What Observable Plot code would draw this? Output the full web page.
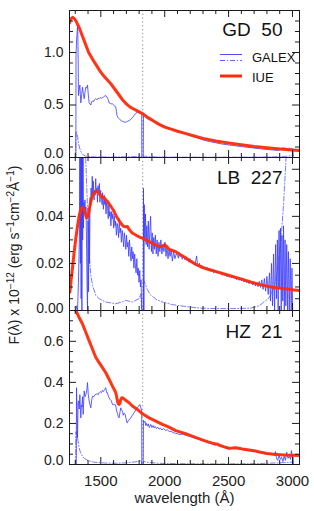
<!DOCTYPE html>
<html><head><meta charset="utf-8">
<script src="https://cdn.jsdelivr.net/npm/d3@7"></script>
<script src="https://cdn.jsdelivr.net/npm/@observablehq/plot@0.6"></script>
<style>
body{margin:0;background:#fff;}
#chart{position:relative;width:314px;height:511px;overflow:hidden;background:#fff;font-family:'Liberation Sans',Arial,sans-serif;color:#1a1a1a;}
#chart svg{position:absolute;left:0;overflow:visible;background:transparent;}
#ylab{position:absolute;left:14px;top:255px;transform:translate(-50%,-50%) rotate(-90deg);white-space:nowrap;font-size:14px;line-height:14px;color:#222;}
#ylab sup{font-size:10px;line-height:0;vertical-align:5px;}
</style></head>
<body><div id="chart"><div id="ylab">F(λ) x 10<sup>−12</sup> (erg s<sup>−1</sup>cm<sup>−2</sup>Å<sup>−1</sup>)</div></div>
<script>
// ---------- axis ticks ----------
const xDomain = [1255, 3055];
const xMajor = [1500, 2000, 2500, 3000];
const xMinor = [1300, 1400, 1600, 1700, 1800, 1900, 2100, 2200, 2300, 2400, 2600, 2700, 2800, 2900];
const dichroic = [1828];

const y1Major = [0, 0.5, 1.0];
const y1Minor = [0.1, 0.2, 0.3, 0.4, 0.6, 0.7, 0.8, 0.9, 1.1, 1.2, 1.3];
const y2Major = [0, 0.02, 0.04, 0.06];
const y2Minor = [0.005, 0.01, 0.015, 0.025, 0.03, 0.035, 0.045, 0.05, 0.055];
const y3Major = [0, 0.2, 0.4, 0.6];
const y3Minor = [0.05, 0.1, 0.15, 0.25, 0.3, 0.35, 0.45, 0.5, 0.55, 0.65, 0.7];

const starNames = ["GD\u00a0\u00a050", "LB\u00a0\u00a0227", "HZ\u00a0\u00a021"];
const legendNames = ["GALEX", "IUE"];

// ---------- GD 50 ----------
const gd50IUE = [[1255,1.28],[1265,1.32],[1280,1.335],[1295,1.32],[1310,1.29],[1330,1.24],[1355,1.16],[1380,1.08],[1405,1.00],[1438,0.93],[1465,0.88],[1490,0.83],[1520,0.78],[1550,0.74],[1580,0.70],[1610,0.65],[1640,0.60],[1670,0.55],[1700,0.51],[1730,0.48],[1760,0.46],[1800,0.435],[1830,0.415],[1870,0.38],[1910,0.35],[1950,0.32],[2000,0.29],[2050,0.27],[2100,0.25],[2160,0.23],[2230,0.205],[2300,0.182],[2400,0.158],[2500,0.138],[2600,0.122],[2700,0.105],[2800,0.092],[2900,0.081],[3000,0.071],[3055,0.066]];
const gd50FUV = [[1303,0],[1305,0.0],[1306,0.97],[1310,1.10],[1313,1.16],[1318,1.26],[1320,1.20],[1323,0.90],[1325,0.59],[1330,0.64],[1336,0.69],[1340,0.60],[1344,0.52],[1350,0.60],[1357,0.67],[1363,0.61],[1370,0.56],[1376,0.62],[1383,0.67],[1390,0.66],[1396,0.69],[1402,0.60],[1409,0.52],[1415,0.51],[1422,0.50],[1428,0.53],[1435,0.54],[1442,0.53],[1450,0.55],[1461,0.56],[1470,0.55],[1480,0.565],[1487,0.56],[1495,0.57],[1505,0.565],[1513,0.57],[1520,0.575],[1530,0.585],[1539,0.59],[1545,0.575],[1552,0.57],[1558,0.55],[1565,0.52],[1572,0.52],[1580,0.51],[1591,0.51],[1600,0.50],[1610,0.49],[1617,0.48],[1622,0.44],[1627,0.40],[1635,0.38],[1643,0.37],[1650,0.36],[1660,0.35],[1669,0.345],[1680,0.34],[1690,0.335],[1700,0.34],[1710,0.345],[1721,0.35],[1735,0.365],[1747,0.38],[1760,0.40],[1773,0.42],[1785,0.43],[1799,0.43],[1810,0.425],[1820,0.42],[1821,0]];
const gd50NUV = [[1832,0],[1834,0.42],[1840,0.40],[1846,0.39],[1852,0.38],[1865,0.37],[1880,0.36],[1904,0.35],[1930,0.33],[1960,0.315],[2008,0.295],[2040,0.28],[2086,0.26],[2120,0.245],[2164,0.225],[2200,0.21],[2250,0.19],[2305,0.165],[2350,0.152],[2400,0.14],[2450,0.128],[2500,0.12],[2539,0.114],[2600,0.104],[2650,0.097],[2700,0.09],[2750,0.083],[2800,0.077],[2850,0.071],[2883,0.067],[2900,0.072],[2910,0.09],[2918,0.07],[2926,0.096],[2934,0.075],[2942,0.093],[2950,0.078],[2958,0.09],[2966,0.07],[2975,0.092],[2985,0.074],[2995,0.086],[3005,0.078],[3006,0]];
const gd50ErrFUV = [[1303,0.0],[1305,0.25],[1310,0.24],[1318,0.20],[1325,0.14],[1332,0.10],[1340,0.07],[1350,0.04],[1362,0.025],[1380,0.014],[1400,0.009],[1450,0.006],[1500,0.005],[1600,0.005],[1700,0.006],[1760,0.008],[1800,0.012],[1815,0.016],[1820,0.0]];
const gd50ErrNUV = [[1832,0.0],[1834,0.013],[1860,0.009],[1900,0.006],[2000,0.004],[2200,0.003],[2500,0.003],[2700,0.004],[2850,0.006],[2930,0.01],[2980,0.015],[3005,0.02]];

// ---------- LB 227 ----------
const lb227IUE = [[1258,0.0078],[1268,0.013],[1278,0.018],[1292,0.025],[1305,0.0309],[1318,0.036],[1330,0.040],[1342,0.0428],[1352,0.0437],[1361,0.0435],[1370,0.0429],[1380,0.041],[1388,0.0394],[1396,0.0398],[1403,0.0407],[1412,0.0435],[1422,0.0464],[1435,0.0488],[1448,0.0501],[1461,0.0507],[1474,0.0507],[1487,0.0497],[1500,0.0486],[1513,0.0482],[1526,0.0479],[1539,0.047],[1552,0.0464],[1565,0.0453],[1578,0.0443],[1591,0.0432],[1604,0.0421],[1617,0.0405],[1630,0.0393],[1643,0.0382],[1656,0.0372],[1669,0.0362],[1682,0.0357],[1695,0.0356],[1708,0.0357],[1721,0.0345],[1734,0.0336],[1750,0.0328],[1773,0.0321],[1800,0.0313],[1826,0.0307],[1850,0.030],[1878,0.0293],[1905,0.0285],[1930,0.0279],[1950,0.0273],[1969,0.0271],[1985,0.0275],[2000,0.0279],[2015,0.0272],[2034,0.026],[2060,0.0255],[2086,0.025],[2120,0.0238],[2151,0.0228],[2200,0.021],[2240,0.0197],[2281,0.0186],[2340,0.0175],[2411,0.0164],[2480,0.0153],[2542,0.0143],[2610,0.0132],[2672,0.0121],[2740,0.0111],[2802,0.0103],[2870,0.0097],[2932,0.0093],[3000,0.0088],[3055,0.0085]];
const lb227FUV = [[1300,0],[1305,0.0],[1310,0.002],[1318,0.0],[1325,0.012],[1332,0.03],[1336,0.075],[1340,0.02],[1343,0.09],[1346,0.005],[1349,0.08],[1352,0.0],[1355,0.085],[1358,0.03],[1361,0.07],[1364,0.035],[1368,0.046],[1372,0.041],[1376,0.047],[1380,0.04],[1384,0.044],[1388,0.03],[1392,0.012],[1396,0.0],[1400,0.038],[1404,0.008],[1408,0.043],[1412,0.02],[1416,0.048],[1420,0.044],[1424,0.052],[1428,0.046],[1433,0.057],[1437,0.049],[1441,0.055],[1447,0.047],[1451,0.051],[1456,0.049],[1460,0.056],[1465,0.05],[1469,0.052],[1474,0.046],[1478,0.053],[1484,0.05],[1489,0.054],[1493,0.046],[1499,0.051],[1505,0.048],[1510,0.045],[1514,0.05],[1520,0.043],[1526,0.049],[1531,0.045],[1535,0.047],[1541,0.041],[1546,0.046],[1553,0.044],[1558,0.039],[1563,0.045],[1569,0.04],[1573,0.042],[1579,0.036],[1585,0.042],[1590,0.039],[1595,0.041],[1601,0.035],[1606,0.04],[1612,0.036],[1616,0.038],[1622,0.032],[1628,0.037],[1634,0.035],[1639,0.031],[1645,0.039],[1650,0.033],[1656,0.035],[1661,0.029],[1668,0.034],[1673,0.031],[1679,0.027],[1684,0.033],[1690,0.03],[1696,0.026],[1701,0.032],[1707,0.027],[1713,0.029],[1719,0.023],[1724,0.03],[1731,0.025],[1736,0.021],[1742,0.027],[1748,0.022],[1753,0.025],[1759,0.018],[1765,0.024],[1771,0.019],[1776,0.016],[1782,0.022],[1788,0.015],[1793,0.018],[1799,0.012],[1805,0.017],[1810,0.01],[1815,0.013],[1818,0.006],[1820,0.0]];
const lb227NUV = [[1832,0],[1834,0.052],[1837,0.0],[1840,0.045],[1845,0.03],[1850,0.041],[1855,0.028],[1860,0.036],[1866,0.027],[1872,0.038],[1878,0.026],[1884,0.034],[1890,0.04],[1896,0.025],[1902,0.033],[1908,0.024],[1914,0.031],[1920,0.026],[1927,0.032],[1934,0.024],[1941,0.03],[1948,0.023],[1955,0.029],[1962,0.025],[1970,0.03],[1978,0.024],[1986,0.028],[1994,0.025],[2002,0.029],[2010,0.023],[2018,0.027],[2026,0.022],[2034,0.026],[2042,0.023],[2050,0.026],[2060,0.021],[2070,0.025],[2080,0.022],[2090,0.024],[2100,0.0235],[2108,0.0222],[2115,0.0246],[2121,0.0229],[2130,0.0236],[2137,0.0218],[2146,0.0232],[2152,0.0224],[2160,0.0215],[2168,0.0228],[2175,0.0212],[2184,0.0219],[2190,0.0205],[2198,0.0221],[2207,0.0203],[2214,0.0212],[2222,0.0199],[2230,0.0206],[2236,0.0193],[2244,0.0214],[2250,0.0232],[2256,0.0195],[2265,0.0189],[2272,0.0201],[2280,0.0184],[2290,0.0192],[2298,0.0177],[2306,0.0186],[2315,0.0181],[2322,0.0172],[2330,0.0184],[2340,0.0170],[2348,0.0178],[2357,0.0166],[2366,0.0175],[2375,0.0171],[2384,0.0160],[2393,0.0172],[2402,0.0163],[2410,0.0158],[2420,0.0167],[2430,0.0155],[2440,0.0161],[2450,0.0150],[2458,0.0157],[2468,0.0149],[2478,0.0156],[2488,0.0143],[2497,0.0150],[2506,0.0141],[2515,0.0147],[2525,0.0138],[2534,0.0146],[2544,0.0136],[2553,0.0141],[2563,0.0131],[2572,0.0139],[2582,0.0128],[2591,0.0135],[2600,0.0126],[2610,0.0133],[2620,0.0121],[2630,0.0128],[2640,0.0118],[2650,0.0127],[2660,0.0114],[2670,0.0125],[2680,0.0117],[2690,0.0108],[2700,0.0122],[2710,0.0104],[2720,0.0119],[2730,0.0101],[2740,0.0124],[2750,0.0098],[2760,0.0130],[2770,0.0090],[2780,0.0136],[2790,0.0082],[2800,0.0145],[2810,0.0068],[2820,0.016],[2828,0.004],[2836,0.02],[2844,0.002],[2852,0.024],[2860,0.0],[2868,0.028],[2875,0.005],[2882,0.03],[2888,0.0],[2895,0.034],[2900,0.01],[2906,0.035],[2912,0.0],[2918,0.032],[2924,0.004],[2930,0.036],[2936,0.0],[2942,0.03],[2948,0.002],[2955,0.028],[2962,0.0],[2968,0.025],[2975,0.0],[2982,0.022],[2990,0.0],[2996,0.018],[3002,0.0],[3005,0.0]];
const lb227ErrFUV = [[1340,0.09],[1360,0.085],[1375,0.075],[1385,0.06],[1395,0.045],[1409,0.0236],[1422,0.015],[1435,0.0107],[1461,0.0064],[1487,0.0050],[1539,0.0036],[1617,0.0029],[1660,0.0035],[1695,0.0043],[1747,0.0036],[1799,0.005],[1812,0.0071],[1820,0.0]];
const lb227ErrNUV = [[1832,0],[1834,0.013],[1850,0.011],[1864,0.0089],[1891,0.0065],[1904,0.0060],[1940,0.0045],[1982,0.0036],[2060,0.0025],[2164,0.0017],[2280,0.001],[2411,0.0008],[2550,0.0008],[2672,0.001],[2740,0.002],[2776,0.0036],[2810,0.005],[2828,0.0064],[2850,0.009],[2870,0.013],[2890,0.02],[2910,0.03],[2930,0.045],[2950,0.065],[2970,0.09],[3005,0.12]];

// ---------- HZ 21 ----------
const hz21IUE = [[1258,0.80],[1280,0.78],[1305,0.749],[1330,0.716],[1357,0.684],[1383,0.643],[1409,0.602],[1435,0.561],[1461,0.521],[1487,0.496],[1513,0.472],[1539,0.447],[1565,0.415],[1591,0.382],[1605,0.365],[1617,0.350],[1624,0.33],[1630,0.309],[1637,0.296],[1643,0.293],[1650,0.30],[1656,0.316],[1664,0.325],[1672,0.324],[1684,0.318],[1695,0.313],[1721,0.301],[1747,0.285],[1786,0.268],[1826,0.247],[1878,0.227],[1930,0.211],[1982,0.195],[2034,0.182],[2086,0.165],[2112,0.160],[2164,0.150],[2190,0.144],[2240,0.132],[2294,0.120],[2340,0.110],[2372,0.104],[2395,0.101],[2411,0.100],[2424,0.095],[2460,0.087],[2502,0.079],[2530,0.080],[2555,0.082],[2580,0.079],[2607,0.076],[2660,0.071],[2711,0.066],[2763,0.058],[2800,0.054],[2841,0.051],[2900,0.048],[2945,0.046],[3000,0.045],[3055,0.044]];
const hz21FUV = [[1303,0],[1308,0.0],[1310,0.374],[1314,0.25],[1318,0.13],[1322,0.30],[1326,0.31],[1331,0.27],[1336,0.34],[1341,0.26],[1344,0.227],[1348,0.29],[1352,0.28],[1357,0.33],[1362,0.244],[1366,0.31],[1370,0.358],[1376,0.33],[1383,0.341],[1390,0.36],[1396,0.399],[1402,0.34],[1409,0.309],[1416,0.29],[1422,0.276],[1428,0.31],[1435,0.333],[1445,0.33],[1455,0.34],[1461,0.341],[1470,0.345],[1480,0.34],[1487,0.35],[1495,0.355],[1505,0.35],[1513,0.361],[1520,0.355],[1530,0.365],[1539,0.374],[1546,0.35],[1552,0.35],[1558,0.335],[1565,0.325],[1575,0.315],[1583,0.31],[1591,0.292],[1600,0.29],[1608,0.295],[1617,0.285],[1624,0.26],[1630,0.25],[1636,0.235],[1643,0.227],[1650,0.255],[1656,0.276],[1662,0.265],[1669,0.26],[1676,0.24],[1682,0.25],[1690,0.245],[1697,0.225],[1704,0.205],[1708,0.203],[1716,0.215],[1726,0.22],[1734,0.227],[1747,0.24],[1760,0.252],[1773,0.265],[1786,0.276],[1797,0.285],[1805,0.292],[1812,0.28],[1820,0.26],[1821,0]];
const hz21NUV = [[1832,0],[1834,0.215],[1840,0.205],[1846,0.21],[1852,0.19],[1858,0.20],[1865,0.187],[1872,0.198],[1880,0.18],[1891,0.195],[1900,0.18],[1910,0.19],[1917,0.178],[1926,0.185],[1935,0.175],[1945,0.182],[1956,0.172],[1966,0.178],[1978,0.168],[1990,0.175],[2008,0.166],[2020,0.17],[2035,0.16],[2050,0.163],[2065,0.155],[2086,0.152],[2100,0.150],[2120,0.146],[2140,0.148],[2164,0.142],[2190,0.138],[2215,0.133],[2240,0.128],[2265,0.124],[2294,0.116],[2320,0.112],[2345,0.105],[2372,0.10],[2390,0.094],[2411,0.097],[2430,0.09],[2455,0.086],[2480,0.08],[2502,0.076],[2530,0.079],[2555,0.08],[2580,0.076],[2607,0.073],[2635,0.07],[2660,0.068],[2690,0.065],[2711,0.063],[2740,0.058],[2763,0.055],[2790,0.052],[2815,0.05],[2841,0.048],[2860,0.044],[2867,0.063],[2875,0.03],[2885,0.02],[2895,0.046],[2905,0.025],[2915,0.035],[2925,0.015],[2935,0.04],[2945,0.02],[2955,0.06],[2965,0.03],[2975,0.04],[2985,0.025],[2992,0.068],[2998,0.035],[3004,0.05],[3008,0]];
const hz21ErrFUV = [[1303,0],[1305,0.16],[1312,0.15],[1318,0.13],[1325,0.10],[1331,0.08],[1340,0.06],[1350,0.048],[1362,0.035],[1383,0.025],[1409,0.017],[1440,0.012],[1480,0.009],[1540,0.007],[1620,0.006],[1700,0.008],[1760,0.012],[1800,0.016],[1815,0.02],[1820,0]];
const hz21ErrNUV = [[1832,0],[1834,0.015],[1870,0.01],[1950,0.006],[2100,0.004],[2400,0.003],[2700,0.004],[2900,0.008],[3008,0.012]];

// ---------- layout / style options ----------
const panels = [
  {name: starNames[0], iue: gd50IUE, fuv: gd50FUV, nuv: gd50NUV, efuv: gd50ErrFUV, enuv: gd50ErrNUV,
   yDomain: [0, 1.4], yMajor: y1Major, yMinor: y1Minor, fmt: ".1f", top: 0, height: 157, mt: 10, mb: 0, nameDy: 12, zeroDy: -4},
  {name: starNames[1], iue: lb227IUE, fuv: lb227FUV, nuv: lb227NUV, efuv: lb227ErrFUV, enuv: lb227ErrNUV,
   yDomain: [0, 0.065], yMajor: y2Major, yMinor: y2Minor, fmt: ".2f", top: 157, height: 153, mt: 0, mb: 0, nameDy: 13, zeroDy: -1.5},
  {name: starNames[2], iue: hz21IUE, fuv: hz21FUV, nuv: hz21NUV, efuv: hz21ErrFUV, enuv: hz21ErrNUV,
   yDomain: [0, 0.75], yMajor: y3Major, yMinor: y3Minor, fmt: ".1f", top: 310, height: 201, mt: 0, mb: 47, nameDy: 14, zeroDy: -4, bottom: true}
];

const ML = 69, MR = 15, W = 314;
const axisColor = "#1a1a1a";
const galexColor = "#3a3aff";
const iueColor = "#ff2a0a";
const chart = document.getElementById("chart");

panels.forEach(p => {
  const PW = W - ML - MR;
  const PH = p.height - p.mt - p.mb;
  const XY = {x: d => d[0], y: d => d[1]};
  const fmt = d3.format(p.fmt);
  const marks = [
    Plot.ruleX(dichroic, {stroke: "#8c8c8c", strokeWidth: 1, strokeDasharray: "1.2,2.6"}),
    Plot.line(p.efuv, {...XY, stroke: galexColor, strokeWidth: 0.8, strokeOpacity: 0.85, strokeDasharray: "5,2,1,2", clip: true}),
    Plot.line(p.enuv, {...XY, stroke: galexColor, strokeWidth: 0.8, strokeOpacity: 0.85, strokeDasharray: "5,2,1,2", clip: true}),
    Plot.line(p.fuv, {...XY, stroke: galexColor, strokeWidth: 0.9, strokeOpacity: 0.9, clip: true}),
    Plot.line(p.nuv, {...XY, stroke: galexColor, strokeWidth: 0.9, strokeOpacity: 0.9, clip: true}),
    Plot.line(p.iue, {...XY, stroke: iueColor, strokeWidth: 3, strokeOpacity: 0.95, strokeLinejoin: "round", clip: true}),
    Plot.frame({stroke: axisColor, strokeWidth: 1}),
    Plot.ruleY(p.yMajor, {insetRight: PW - 7, stroke: axisColor}),
    Plot.ruleY(p.yMajor, {insetLeft: PW - 7, stroke: axisColor}),
    Plot.ruleY(p.yMinor, {insetRight: PW - 4, stroke: axisColor}),
    Plot.ruleY(p.yMinor, {insetLeft: PW - 4, stroke: axisColor}),
    Plot.ruleX(xMajor, {insetBottom: PH - 7, stroke: axisColor}),
    Plot.ruleX(xMajor, {insetTop: PH - 7, stroke: axisColor}),
    Plot.ruleX(xMinor, {insetBottom: PH - 4, stroke: axisColor}),
    Plot.ruleX(xMinor, {insetTop: PH - 4, stroke: axisColor}),
    Plot.axisY(p.yMajor.filter(d => d !== 0), {tickSize: 0, tickPadding: 6, tickFormat: fmt, label: null, fontSize: 14, fill: "#222"}),
    Plot.axisY(p.yMajor.filter(d => d === 0), {tickSize: 0, tickPadding: 6, tickFormat: fmt, label: null, fontSize: 14, fill: "#222", dy: p.zeroDy}),
    Plot.text([p.name], {frameAnchor: "top-right", dx: -17, dy: p.nameDy, lineAnchor: "top", textAnchor: "end", fontSize: 19, fill: "#111"})
  ];
  if (p.bottom) {
    marks.push(Plot.axisX(xMajor, {tickSize: 0, tickPadding: 11, tickFormat: d => String(d), label: null, fontSize: 15, fill: "#222"}));
    marks.push(Plot.text(["wavelength (Å)"], {frameAnchor: "bottom", dy: 34, lineAnchor: "middle", fontSize: 15, fill: "#222"}));
  }
  const svg = Plot.plot({
    width: W, height: p.height,
    marginLeft: ML, marginRight: MR, marginTop: p.mt, marginBottom: p.mb,
    x: {domain: xDomain, axis: p.bottom ? undefined : null},
    y: {domain: p.yDomain},
    style: {fontFamily: "'Liberation Sans', Arial, sans-serif", fontSize: "15px", overflow: "visible", background: "transparent"},
    marks
  });
  svg.style.top = p.top + "px";
  chart.appendChild(svg);

  if (p.top === 0) {
    const g = d3.select(svg).append("g").attr("text-anchor", "start");
    g.append("line").attr("x1", 220).attr("x2", 242).attr("y1", 54.5).attr("y2", 54.5)
      .attr("stroke", galexColor).attr("stroke-width", 0.9);
    g.append("line").attr("x1", 220).attr("x2", 242).attr("y1", 60.5).attr("y2", 60.5)
      .attr("stroke", galexColor).attr("stroke-width", 0.8).attr("stroke-dasharray", "5,2,1,2");
    g.append("line").attr("x1", 220).attr("x2", 242).attr("y1", 76).attr("y2", 76)
      .attr("stroke", iueColor).attr("stroke-width", 3);
    g.append("text").attr("x", 252).attr("y", 62).attr("text-anchor", "start").text(legendNames[0])
      .attr("font-size", 13).attr("fill", "#111");
    g.append("text").attr("x", 252).attr("y", 81.5).attr("text-anchor", "start").text(legendNames[1])
      .attr("font-size", 13).attr("fill", "#111");
  }
});
</script></body></html>
